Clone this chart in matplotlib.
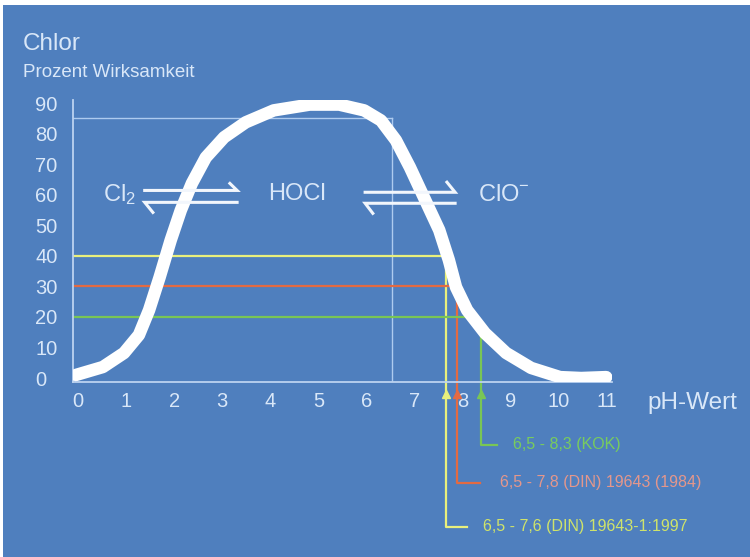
import matplotlib
matplotlib.use('Agg')
import matplotlib.pyplot as plt
from matplotlib.patches import Rectangle

plt.rcParams['font.family'] = ['Liberation Sans', 'DejaVu Sans']
plt.rcParams['mathtext.default'] = 'regular'

# Wirksamkeit von Chlor in Abhängigkeit vom pH-Wert
ph_values = [-0.04, 0.52, 0.96, 1.27, 1.48, 1.70, 1.93, 2.14, 2.37, 2.66,
             3.04, 3.49, 4.07, 4.82, 5.43, 5.95, 6.30, 6.61, 6.90, 7.19,
             7.51, 7.71, 7.86, 8.09, 8.46, 8.90, 9.42, 10.02, 10.46, 10.98]
wirksamkeit = [1.0, 3.6, 8.2, 14.1, 22.2, 33.0, 45.1, 54.9, 63.7, 72.2,
               78.8, 83.7, 87.6, 89.5, 89.5, 87.6, 84.3, 77.8, 69.0, 59.2,
               48.4, 38.6, 29.7, 22.2, 14.7, 8.2, 3.3, 0.3, 0.0, 0.3]

x_ticks = list(range(0, 12))
y_ticks = list(range(0, 100, 10))

# Referenzlinie (weiß)
ref_ph = 6.53
ref_level = 85

# Normbereiche: obere pH-Grenze, Wirksamkeit, Beschriftung
norm_labels = ['6,5 - 7,6 (DIN) 19643-1:1997',
               '6,5 - 7,8 (DIN) 19643 (1984)',
               '6,5 - 8,3 (KOK)']
norm_ph = [7.65, 7.88, 8.38]
norm_level = [40, 30, 20]

BG = '#4f7fbe'
TXT = '#d9e7f8'
LINE_COL = ['#e9f07c', '#e36a42', '#79c655']
LABEL_COL = ['#cfe36a', '#e4978c', '#78cc5e']

fig = plt.figure(figsize=(7.5, 5.57), dpi=100)
fig.patch.set_facecolor('white')
fig.patches.append(Rectangle((3 / 750, 0), 1, 1 - 5 / 557, transform=fig.transFigure,
                             facecolor=BG, edgecolor='none', zorder=-10))

ax = fig.add_axes([73 / 750, 1 - 382 / 557, 539 / 750, 282 / 557])
ax.patch.set_visible(False)
ax.set_xlim(-0.1, 11.1)
ax.set_ylim(-1.3, 91)

for s in ['top', 'right']:
    ax.spines[s].set_visible(False)
for s in ['left', 'bottom']:
    ax.spines[s].set_color('#bcd3f0')
    ax.spines[s].set_linewidth(1.3)

ax.set_xticks(x_ticks)
ax.set_yticks(y_ticks)
ax.tick_params(length=0, labelsize=14.5, colors=TXT)
ax.tick_params(axis='x', pad=7)
ax.tick_params(axis='y', pad=27)
for lab in ax.get_yticklabels():
    lab.set_horizontalalignment('left')

# weiße Referenzlinien
ax.plot([-0.1, ref_ph], [ref_level, ref_level], color='#aecbef', lw=1)
ax.plot([ref_ph, ref_ph], [ref_level, -1.3], color='#aecbef', lw=1)

# Normbereiche
label_y = [-48.7, -34.3, -21.9]
bracket_end = [8.09, 8.36, 8.71]
label_x = [8.42, 8.77, 9.04]
vert_top = [40, 30, 15]
for i in range(3):
    c = LINE_COL[i]
    # horizontal bis zur Kurve
    h_end = norm_ph[i] if i < 2 else 8.15
    ax.plot([-0.1, h_end], [norm_level[i], norm_level[i]], color=c, lw=1.6, zorder=2)
    ax.plot([norm_ph[i], norm_ph[i], bracket_end[i]],
            [vert_top[i], label_y[i], label_y[i]], color=c, lw=1.6,
            clip_on=False, zorder=2)
    ax.plot([norm_ph[i]], [-5.3], marker='^', ms=6, color=c, clip_on=False,
            zorder=3)
    ax.text(label_x[i], label_y[i], norm_labels[i], color=LABEL_COL[i],
            fontsize=11.5, va='center', ha='left', clip_on=False)

# Kurve
ax.plot(ph_values, wirksamkeit, color='white', lw=9, solid_capstyle='round',
        solid_joinstyle='round', zorder=4)

# Gleichgewichtspfeile
for (x0, x1, yu, yl, bx_r, by_r, bx_l, by_l) in [
        (1.39, 3.31, 61.4, 57.5, 3.16, 63.7, 1.56, 54.2),
        (5.97, 7.84, 60.8, 57.2, 7.67, 64.1, 6.13, 53.9)]:
    ax.plot([x0, x1, bx_r], [yu, yu, by_r], color='#f2f6fc', lw=2.2, zorder=5,
            solid_joinstyle='miter')
    ax.plot([x1, x0, bx_l], [yl, yl, by_l], color='#f2f6fc', lw=2.2, zorder=5,
            solid_joinstyle='miter')

ax.text(0.52, 60.2, 'Cl$_2$', color=TXT, fontsize=17, va='center', ha='left', zorder=6)
ax.text(3.95, 60.2, 'HOCl', color=TXT, fontsize=17, va='center', ha='left', zorder=6)
ax.text(8.32, 59.8, 'ClO$^{-}$', color=TXT, fontsize=17, va='center', ha='left', zorder=6)

fig.text(23 / 750, 1 - 50 / 557, 'Chlor', color=TXT, fontsize=17.5, va='baseline')
fig.text(23 / 750, 1 - 77 / 557, 'Prozent Wirksamkeit', color=TXT, fontsize=13.5,
         va='baseline')
fig.text(647 / 750, 1 - 409 / 557, 'pH-Wert', color=TXT, fontsize=17.5, va='baseline')

fig.savefig('out.png', dpi=100)
